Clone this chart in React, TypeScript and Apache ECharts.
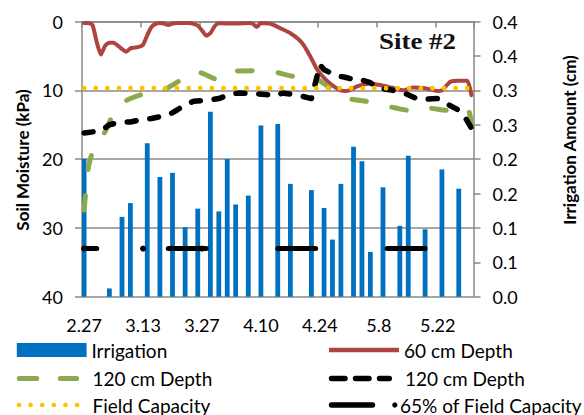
import React, { useEffect, useRef } from "react";
import * as echarts from "echarts";

// Daily categories (Feb 27 – May 30)
const dates: string[] = [
  "2.27", "2.28",
  "3.1", "3.2", "3.3", "3.4", "3.5", "3.6", "3.7", "3.8", "3.9", "3.10",
  "3.11", "3.12", "3.13", "3.14", "3.15", "3.16", "3.17", "3.18", "3.19", "3.20",
  "3.21", "3.22", "3.23", "3.24", "3.25", "3.26", "3.27", "3.28", "3.29", "3.30", "3.31",
  "4.1", "4.2", "4.3", "4.4", "4.5", "4.6", "4.7", "4.8", "4.9", "4.10",
  "4.11", "4.12", "4.13", "4.14", "4.15", "4.16", "4.17", "4.18", "4.19", "4.20",
  "4.21", "4.22", "4.23", "4.24", "4.25", "4.26", "4.27", "4.28", "4.29", "4.30",
  "5.1", "5.2", "5.3", "5.4", "5.5", "5.6", "5.7", "5.8", "5.9", "5.10",
  "5.11", "5.12", "5.13", "5.14", "5.15", "5.16", "5.17", "5.18", "5.19", "5.20",
  "5.21", "5.22", "5.23", "5.24", "5.25", "5.26", "5.27", "5.28", "5.29", "5.30",
];

const leftTickLabels = ["0", "10", "20", "30", "40"];
const rightTickLabels = ["0.0", "0.1", "0.1", "0.2", "0.2", "0.3", "0.3", "0.4", "0.4"];

// Irrigation (cm) – day index into dates
const irrigationDays = [0, 6, 9, 11, 15, 18, 21, 24, 27, 30, 32, 34, 36, 39, 42, 46, 49, 54, 57, 59, 61, 64, 66, 68, 71, 75, 77, 81, 85, 89];
const irrigationCm = [0.2, 0.012, 0.116, 0.136, 0.223, 0.174, 0.18, 0.101, 0.128, 0.269, 0.124, 0.2, 0.134, 0.147, 0.249, 0.251, 0.164, 0.155, 0.129, 0.083, 0.164, 0.218, 0.197, 0.065, 0.159, 0.103, 0.205, 0.098, 0.185, 0.157];

// 60 cm depth soil moisture (kPa)
const soil60Days = [0, 1, 2, 3, 4, 5, 6, 7, 8, 9, 10, 11, 12, 13, 14, 15, 16, 17, 18, 19, 20, 21, 22, 25, 27, 28, 29, 30, 31, 32, 36, 39, 40, 41, 42, 44, 45, 47, 49, 51, 52, 53, 54, 55, 56, 57, 58, 59, 60, 61, 62, 63, 65, 68, 70, 73, 76, 78, 81, 84, 85, 87, 89, 91, 92];
const soil60Kpa = [0.2, 0.2, 0.5, 3.0, 4.8, 3.5, 3.1, 3.1, 3.5, 4.0, 4.4, 3.9, 3.8, 3.7, 3.4, 2.0, 0.8, 0.35, 0.2, 0.3, 0.5, 0.3, 0.2, 0.2, 0.6, 1.3, 2.05, 1.7, 0.7, 0.25, 0.3, 0.2, 0.3, 0.8, 0.2, 0.3, 0.5, 1.1, 1.7, 2.6, 3.3, 4.3, 5.4, 6.6, 7.5, 8.2, 8.8, 9.3, 9.7, 10.0, 10.1, 10.0, 9.4, 9.0, 9.2, 9.6, 10.0, 9.6, 9.7, 10.1, 10.0, 8.75, 8.6, 8.6, 10.7];

// 120 cm depth (green, long dash)
const soil120aDays = [0, 1, 2, 5, 7, 10, 15, 19, 23, 26, 28, 32, 36, 41, 45, 50, 54, 55, 59, 63, 67, 72, 77, 82, 86, 91, 92];
const soil120aKpa = [27.4, 21.3, 19.0, 16.0, 13.4, 11.5, 10.35, 9.9, 8.5, 7.3, 7.5, 8.5, 7.2, 7.15, 7.3, 8.0, 7.9, 8.2, 9.9, 11.2, 11.6, 12.3, 12.9, 12.6, 12.9, 12.6, 14.8];

// 120 cm depth (black, short dash)
const soil120bDays = [0, 4, 6, 9, 11, 14, 16, 20, 22, 24, 26, 30, 32, 35, 37, 41, 43, 46, 47, 51, 52, 54, 55, 56, 57, 60, 62, 65, 66, 68, 70, 73, 76, 79, 81, 84, 86, 89, 90, 92];
const soil120bKpa = [16.2, 15.9, 15.0, 14.6, 14.6, 14.2, 14.1, 13.6, 12.9, 12.1, 11.6, 11.4, 11.2, 10.5, 10.4, 10.5, 10.6, 10.75, 10.4, 10.7, 10.9, 11.2, 8.8, 6.3, 7.0, 7.9, 8.1, 8.6, 8.5, 8.9, 9.7, 9.95, 10.4, 11.2, 11.3, 11.2, 11.9, 12.9, 13.4, 15.5];

// Field capacity and 65% of field capacity (kPa)
const fieldCapacityDays = [0, 92];
const fieldCapacityKpa = 9.7;
const fc65Days = [0, 1, 2, 3, 9, 14, 20, 21, 22, 23, 24, 25, 26, 27, 28, 29, 35, 40, 46, 47, 48, 49, 50, 51, 52, 53, 54, 55, 61, 66, 72, 73, 74, 75, 76, 77, 78, 79, 80, 81, 87];
const fc65Kpa = 33.0;

export default function App() {
  const ref = useRef<HTMLDivElement>(null);

  useEffect(() => {
    if (!ref.current) return;
    const chart = echarts.init(ref.current, null, { renderer: "svg" });
    const font = "Lato";
    const gray = "#8a8a8a";
    const red = "#AD4440";
    const green = "#8BAA4B";
    const blue = "#0070C0";
    const gold = "#FFC000";

    const pairs = (days: number[], vals: number[]) => days.map((d, i) => [d, vals[i]]);
    const irrigationData = dates.map((_, i) => {
      const k = irrigationDays.indexOf(i);
      return k >= 0 ? irrigationCm[k] : null;
    });
    const fc65Data = dates.map((_, i) => (fc65Days.indexOf(i) >= 0 ? fc65Kpa : null));
    const fcData = fieldCapacityDays.map((d) => [d, fieldCapacityKpa]);

    const legendText = (text: string, x: number, y: number) => ({
      type: "text",
      x,
      y,
      style: { text, fontFamily: font, fontSize: 19, fill: "#000", textAlign: "left", textVerticalAlign: "middle" },
    });

    const row1 = 350;
    const row2 = 378.5;
    const row3 = 405;

    chart.setOption({
      animation: false,
      backgroundColor: "#ffffff",
      textStyle: { fontFamily: font },
      grid: { left: 82, right: 110.5, top: 21.5, bottom: 118.3, containLabel: false },
      xAxis: {
        type: "category",
        data: dates,
        boundaryGap: true,
        axisLine: { show: true, lineStyle: { color: gray, width: 1.5 } },
        axisTick: { show: true, interval: 13, length: 6, lineStyle: { color: gray, width: 1.5 } },
        axisLabel: { interval: 13, margin: 19, fontFamily: font, fontSize: 18, color: "#000" },
        splitLine: { show: false },
      },
      yAxis: [
        {
          type: "value",
          inverse: true,
          min: 0,
          max: 40,
          interval: 10,
          position: "left",
          axisLine: { show: true, lineStyle: { color: gray, width: 1.5 } },
          axisTick: { show: true, length: 7, lineStyle: { color: gray, width: 1.5 } },
          axisLabel: {
            margin: 19,
            fontFamily: font,
            fontSize: 18,
            color: "#000",
            formatter: (v: number) => leftTickLabels[Math.round(v / 10)] ?? "",
          },
          splitLine: { show: true, lineStyle: { color: gray, width: 1.5 } },
        },
        {
          type: "value",
          min: 0,
          max: 0.4,
          interval: 0.05,
          position: "right",
          axisLine: { show: true, lineStyle: { color: gray, width: 1.5 } },
          axisTick: { show: true, length: 7, lineStyle: { color: gray, width: 1.5 } },
          axisLabel: {
            margin: 19,
            fontFamily: font,
            fontSize: 18,
            color: "#000",
            formatter: (v: number) => rightTickLabels[Math.round(v / 0.05)] ?? "",
          },
          splitLine: { show: false },
        },
      ],
      series: [
        {
          name: "Irrigation",
          type: "bar",
          yAxisIndex: 1,
          data: irrigationData,
          barWidth: 4.8,
          itemStyle: { color: blue },
        },
        {
          name: "60 cm Depth",
          type: "line",
          yAxisIndex: 0,
          data: pairs(soil60Days, soil60Kpa),
          symbol: "none",
          smooth: 0.2,
          lineStyle: { color: red, width: 4, cap: "round", join: "round" },
        },
        {
          name: "120 cm Depth (a)",
          type: "line",
          yAxisIndex: 0,
          data: pairs(soil120aDays, soil120aKpa),
          symbol: "none",
          smooth: 0.2,
          lineStyle: { color: green, width: 5, type: [14.5, 26], cap: "round", join: "round" },
        },
        {
          name: "120 cm Depth (b)",
          type: "line",
          yAxisIndex: 0,
          data: pairs(soil120bDays, soil120bKpa),
          symbol: "none",
          lineStyle: { color: "#000", width: 5.5, type: [9, 13.8], cap: "round", join: "round" },
        },
        {
          name: "Field Capacity",
          type: "line",
          yAxisIndex: 0,
          data: fcData,
          symbol: "none",
          lineStyle: { color: gold, width: 4.8, type: [0.01, 11.6], cap: "round" },
        },
        {
          name: "65% of Field Capacity",
          type: "line",
          yAxisIndex: 0,
          data: fc65Data,
          connectNulls: false,
          symbol: "circle",
          symbolSize: 6,
          showSymbol: true,
          itemStyle: { color: "#000" },
          lineStyle: { color: "#000", width: 5, cap: "round" },
        },
      ],
      graphic: [
        {
          type: "text",
          x: 379,
          y: 41,
          scaleX: 1.17,
          style: {
            text: "Site #2",
            fontFamily: "Liberation Serif",
            fontWeight: "bold",
            fontSize: 23,
            fill: "#111",
            textAlign: "left",
            textVerticalAlign: "middle",
          },
        },
        {
          type: "text",
          x: 22,
          y: 160,
          rotation: Math.PI / 2,
          style: {
            text: "Soil Moisture (kPa)",
            fontFamily: font,
            fontWeight: "bold",
            fontSize: 17,
            fill: "#000",
            textAlign: "center",
            textVerticalAlign: "middle",
          },
        },
        {
          type: "text",
          x: 569.5,
          y: 140,
          rotation: Math.PI / 2,
          style: {
            text: "Irrigation Amount (cm)",
            fontFamily: font,
            fontWeight: "bold",
            fontSize: 17,
            fill: "#000",
            textAlign: "center",
            textVerticalAlign: "middle",
          },
        },
        // legend row 1
        { type: "rect", shape: { x: 16.8, y: row1 - 7, width: 69.8, height: 14 }, style: { fill: blue } },
        legendText("Irrigation", 91.4, row1 + 0.5),
        { type: "line", shape: { x1: 329, y1: row1, x2: 399, y2: row1 }, style: { stroke: red, lineWidth: 4.5 } },
        legendText("60 cm Depth", 404, row1 + 0.5),
        // legend row 2
        {
          type: "line",
          shape: { x1: 19.3, y1: row2, x2: 76.6, y2: row2 },
          style: { stroke: green, lineWidth: 5, lineDash: [17.4, 23.6], lineCap: "round" },
        },
        legendText("120 cm Depth", 92.5, row2),
        {
          type: "line",
          shape: { x1: 331.5, y1: row2, x2: 389.3, y2: row2 },
          style: { stroke: "#000", lineWidth: 5.5, lineDash: [13.5, 10.5], lineCap: "round" },
        },
        legendText("120 cm Depth", 405, row2),
        // legend row 3
        {
          type: "line",
          shape: { x1: 19, y1: row3, x2: 77.5, y2: row3 },
          style: { stroke: gold, lineWidth: 4.7, lineDash: [0.01, 11.6], lineCap: "round" },
        },
        legendText("Field Capacity", 92.5, row3),
        {
          type: "line",
          shape: { x1: 331.5, y1: row3, x2: 372.5, y2: row3 },
          style: { stroke: "#000", lineWidth: 5.5, lineCap: "round" },
        },
        { type: "circle", shape: { cx: 394.8, cy: row3, r: 2.6 }, style: { fill: "#000" } },
        legendText("65% of Field Capacity", 400, row3),
      ],
    });

    return () => chart.dispose();
  }, []);

  return (
    <div
      ref={ref}
      style={{ position: "fixed", left: 0, top: 0, width: 584, height: 415, background: "#fff" }}
    />
  );
}
